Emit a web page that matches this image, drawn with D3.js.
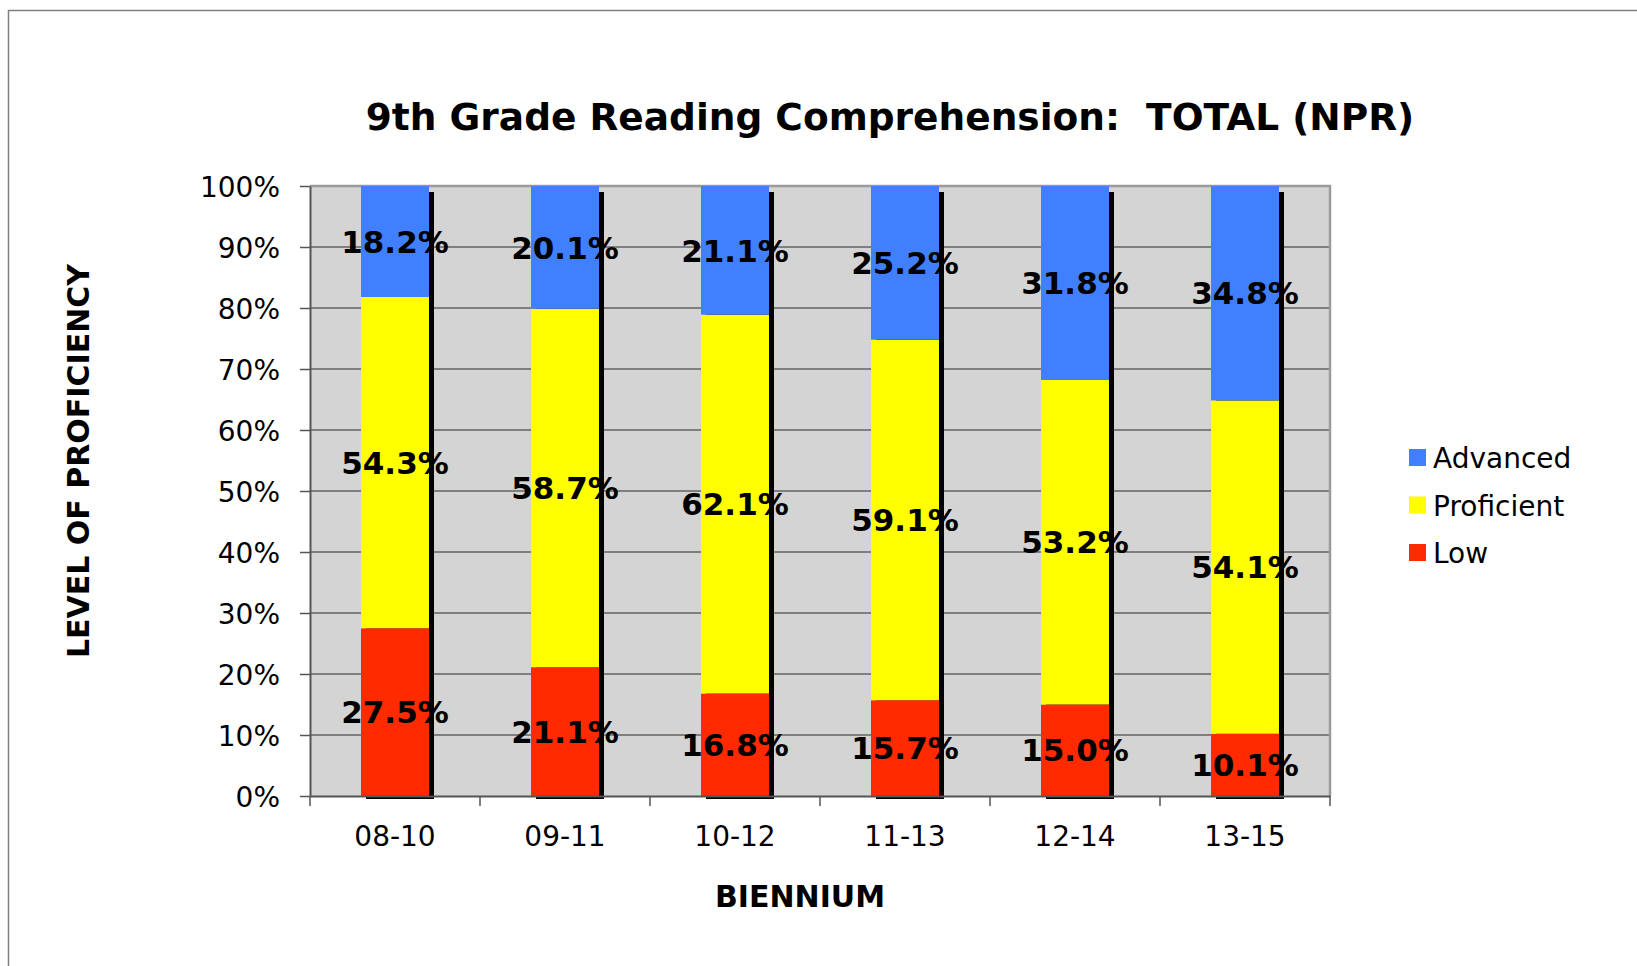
<!DOCTYPE html>
<html>
<head>
<meta charset="utf-8">
<script src="https://cdn.jsdelivr.net/npm/d3@7"></script>
<style>
  body { margin: 0; background: #fff; }
  svg { display: block; font-family: "DejaVu Sans", Verdana, sans-serif; }
</style>
</head>
<body>
<svg id="chart" width="1637" height="966"></svg>
<script>
// chart data
const biennia = ["08-10", "09-11", "10-12", "11-13", "12-14", "13-15"];
const low = [27.5, 21.1, 16.8, 15.7, 15.0, 10.1];
const proficient = [54.3, 58.7, 62.1, 59.1, 53.2, 54.1];
const advanced = [18.2, 20.1, 21.1, 25.2, 31.8, 34.8];
const seriesNames = ["Low", "Proficient", "Advanced"];
const yTicks = [0, 0.1, 0.2, 0.3, 0.4, 0.5, 0.6, 0.7, 0.8, 0.9, 1];

const colors = { Low: "#ff2a00", Proficient: "#ffff00", Advanced: "#4080ff" };

const svg = d3.select("#chart");
const plot = { left: 310, right: 1330, top: 186, bottom: 796 };

// outer frame (partially visible in the original)
svg.append("path")
    .attr("d", "M8.5,966 V10.5 H1637")
    .attr("fill", "none")
    .attr("stroke", "#808080")
    .attr("stroke-width", 1.5);

// build rows and stack them as 100% stacked
const rows = biennia.map((b, i) => {
    const total = low[i] + proficient[i] + advanced[i];
    return { biennium: b, Low: low[i] / total, Proficient: proficient[i] / total, Advanced: advanced[i] / total,
             raw: { Low: low[i], Proficient: proficient[i], Advanced: advanced[i] } };
});
const stacked = d3.stack().keys(seriesNames)(rows);

const x = d3.scaleBand().domain(biennia).range([plot.left, plot.right]).paddingInner(0.6).paddingOuter(0.3);
const xBand = d3.scaleBand().domain(biennia).range([plot.left, plot.right]);
const y = d3.scaleLinear().domain([0, 1]).range([plot.bottom, plot.top]);

// plot background
svg.append("rect")
    .attr("x", plot.left).attr("y", plot.top)
    .attr("width", plot.right - plot.left).attr("height", plot.bottom - plot.top)
    .attr("fill", "#d4d4d4");

// gridlines
svg.append("g").selectAll("line")
    .data(yTicks.slice(1, -1))
    .join("line")
    .attr("x1", plot.left).attr("x2", plot.right)
    .attr("y1", d => y(d)).attr("y2", d => y(d))
    .attr("stroke", "#2a2a2a")
    .attr("stroke-width", 1.2);

// plot border top/right
svg.append("path")
    .attr("d", `M${plot.left},${plot.top} H${plot.right} V${plot.bottom}`)
    .attr("fill", "none")
    .attr("stroke", "#9a9a9a")
    .attr("stroke-width", 2.5);

// bar shadows
svg.append("g").selectAll("rect")
    .data(rows)
    .join("rect")
    .attr("x", d => x(d.biennium) + 5)
    .attr("y", y(1) + 6)
    .attr("width", x.bandwidth())
    .attr("height", y(0) - y(1) - 3)
    .attr("fill", "#000");

// stacked bars
svg.append("g").selectAll("g")
    .data(stacked)
    .join("g")
    .attr("fill", s => colors[s.key])
    .selectAll("rect")
    .data(s => s)
    .join("rect")
    .attr("x", d => x(d.data.biennium))
    .attr("y", d => y(d[1]))
    .attr("width", x.bandwidth())
    .attr("height", d => y(d[0]) - y(d[1]));

// axes
const yAxis = svg.append("g")
    .attr("transform", `translate(${plot.left},0)`)
    .call(d3.axisLeft(y).tickValues(yTicks).tickFormat(d3.format(".0%")).tickSize(10).tickSizeOuter(0));
yAxis.select(".domain").attr("stroke", "#555").attr("stroke-width", 2);
yAxis.selectAll(".tick line").attr("stroke", "#555").attr("stroke-width", 1.5);
yAxis.selectAll(".tick text")
    .attr("x", -30)
    .attr("dy", "0.36em")
    .attr("font-size", 28)
    .attr("font-family", "DejaVu Sans, Verdana, sans-serif")
    .attr("fill", "#000");

const xAxis = svg.append("g")
    .attr("transform", `translate(0,${plot.bottom})`)
    .call(d3.axisBottom(xBand).tickSize(0).tickSizeOuter(0));
xAxis.select(".domain").attr("stroke", "#555").attr("stroke-width", 2);
xAxis.selectAll(".tick text")
    .attr("y", 50)
    .attr("dy", 0)
    .attr("font-size", 28)
    .attr("font-family", "DejaVu Sans, Verdana, sans-serif")
    .attr("fill", "#000");
// category separator ticks
svg.append("g").selectAll("line")
    .data(biennia.concat(["end"]))
    .join("line")
    .attr("x1", d => d === "end" ? plot.right : xBand(d))
    .attr("x2", d => d === "end" ? plot.right : xBand(d))
    .attr("y1", plot.bottom).attr("y2", plot.bottom + 10)
    .attr("stroke", "#555").attr("stroke-width", 1.5);

// data labels
svg.append("g").selectAll("g")
    .data(stacked)
    .join("g")
    .selectAll("text")
    .data(s => s.map(d => ({ d, key: s.key })))
    .join("text")
    .attr("x", o => x(o.d.data.biennium) + x.bandwidth() / 2)
    .attr("y", o => y((o.d[0] + o.d[1]) / 2))
    .attr("dy", "0.36em")
    .attr("text-anchor", "middle")
    .attr("font-size", 31)
    .attr("font-weight", "bold")
    .attr("fill", "#000")
    .text(o => o.d.data.raw[o.key].toFixed(1) + "%");

// title
svg.append("text")
    .attr("x", 890).attr("y", 130)
    .attr("text-anchor", "middle")
    .attr("font-size", 37.5)
    .attr("font-weight", "bold")
    .attr("xml:space", "preserve")
    .style("white-space", "pre")
    .text("9th Grade Reading Comprehension:  TOTAL (NPR)");

// axis titles
svg.append("text")
    .attr("x", 800).attr("y", 907)
    .attr("text-anchor", "middle")
    .attr("font-size", 30)
    .attr("font-weight", "bold")
    .text("BIENNIUM");

svg.append("text")
    .attr("transform", "translate(89,461) rotate(-90)")
    .attr("text-anchor", "middle")
    .attr("font-size", 30)
    .attr("font-weight", "bold")
    .text("LEVEL OF PROFICIENCY");

// legend
const legendKeys = ["Advanced", "Proficient", "Low"];
const legend = svg.append("g").attr("transform", "translate(1409,449)");
const item = legend.selectAll("g")
    .data(legendKeys)
    .join("g")
    .attr("transform", (d, i) => `translate(0,${i * 47.5})`);
item.append("rect")
    .attr("width", 17).attr("height", 17)
    .attr("fill", d => colors[d]);
item.append("text")
    .attr("x", 24).attr("y", 19)
    .attr("font-size", 28)
    .attr("fill", "#000")
    .text(d => d);
</script>
</body>
</html>
